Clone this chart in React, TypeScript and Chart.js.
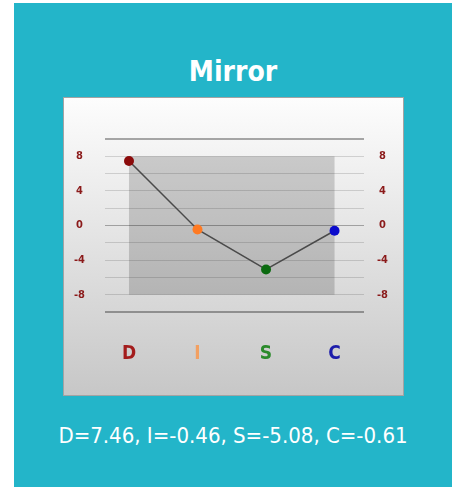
import { useEffect, useRef } from "react";
import { Chart, registerables } from "chart.js";

Chart.register(...registerables);

const categories = ["D", "I", "S", "C"];
const values = [7.46, -0.46, -5.08, -0.61];
const pointColors = ["#8b0b0b", "#ff7a22", "#0b6a10", "#0b0bcc"];
const labelColors = ["#a31c1c", "#f2a062", "#2a8a2a", "#1c1caa"];
const yTickLabels = [8, 4, 0, -4, -8];
const bandRange = [-8, 8];
const title = "Mirror";
const summary = categories.map((c, i) => `${c}=${values[i].toFixed(2)}`).join(", ");

const FONT = "'DejaVu Sans Condensed', 'DejaVu Sans', sans-serif";

const bandPlugin = {
  id: "band",
  beforeDraw(chart: any) {
    const { ctx, scales } = chart;
    const x = scales.x;
    const y = scales.y;
    const l = x.getPixelForValue(0);
    const r = x.getPixelForValue(categories.length - 1);
    const t = y.getPixelForValue(bandRange[1]);
    const b = y.getPixelForValue(bandRange[0]);
    ctx.save();
    ctx.fillStyle = "rgba(0,0,0,0.17)";
    ctx.fillRect(l, t, r - l, b - t);
    ctx.restore();
  },
};

function ChartCanvas() {
  const ref = useRef<HTMLCanvasElement>(null);
  useEffect(() => {
    if (!ref.current) return;
    const tickFont = { family: FONT, size: 11, weight: "bold" as const };
    const yTickCb = (v: any) => (yTickLabels.includes(Number(v)) ? String(v) : "");
    const chart = new Chart(ref.current, {
      type: "line",
      data: {
        datasets: [
          {
            data: values.map((v, i) => ({ x: i, y: v })),
            borderColor: "#4a4a4a",
            borderWidth: 1.5,
            pointRadius: 5,
            pointHoverRadius: 5,
            pointBorderWidth: 0,
            pointBackgroundColor: pointColors,
            tension: 0,
          },
        ],
      },
      options: {
        animation: false,
        responsive: false,
        maintainAspectRatio: false,
        layout: { padding: { left: 0, right: 0, top: 41, bottom: 0 } },
        plugins: { legend: { display: false }, tooltip: { enabled: false }, title: { display: false } },
        scales: {
          x: {
            type: "linear",
            min: -0.35,
            max: 3.43,
            afterBuildTicks: (scale: any) => {
              scale.ticks = categories.map((_, i) => ({ value: i }));
            },
            afterFit: (scale: any) => {
              scale.height = 83;
            },
            grid: { display: false, drawTicks: false },
            border: { display: false },
            ticks: {
              padding: 31,
              autoSkip: false,
              maxRotation: 0,
              font: { family: FONT, size: 19, weight: "bold" },
              color: (c: any) => labelColors[c.index] || "#000",
              callback: (v: any) => categories[Number(v)] ?? "",
            },
          },
          y: {
            position: "left",
            min: -10,
            max: 10,
            afterFit: (scale: any) => {
              scale.width = 41;
            },
            border: { display: false },
            grid: {
              drawTicks: false,
              color: (c: any) => {
                const v = c.tick?.value;
                if (v === 10 || v === -10) return "rgba(0,0,0,0.33)";
                if (v === 0) return "rgba(0,0,0,0.3)";
                return "rgba(0,0,0,0.14)";
              },
              lineWidth: (c: any) => {
                const v = c.tick?.value;
                return v === 10 || v === -10 ? 2 : 1;
              },
            },
            ticks: {
              stepSize: 2,
              autoSkip: false,
              padding: 20,
              crossAlign: "center",
              color: "#8b1a1a",
              font: tickFont,
              callback: yTickCb,
            },
          },
          y2: {
            position: "right",
            min: -10,
            max: 10,
            afterFit: (scale: any) => {
              scale.width = 39;
            },
            border: { display: false },
            grid: { display: false, drawTicks: false },
            ticks: {
              stepSize: 2,
              autoSkip: false,
              padding: 13,
              crossAlign: "center",
              color: "#8b1a1a",
              font: tickFont,
              callback: yTickCb,
            },
          },
        },
      } as any,
      plugins: [bandPlugin],
    });
    return () => chart.destroy();
  }, []);
  return <canvas ref={ref} width={339} height={297} style={{ display: "block", width: 339, height: 297 }} />;
}

export default function App() {
  return (
    <div style={{ position: "absolute", left: 0, top: 0, width: 452, height: 487, background: "#ffffff" }}>
      <div style={{ position: "absolute", left: 14, top: 3, width: 438, height: 484, background: "#23b5c9" }} />
      <div
        style={{
          position: "absolute",
          left: 0,
          top: 58,
          width: 466,
          textAlign: "center",
          color: "#ffffff",
          fontFamily: FONT,
          fontWeight: "bold",
          fontSize: 28,
          lineHeight: "28px",
        }}
      >
        {title}
      </div>
      <div
        style={{
          position: "absolute",
          left: 63,
          top: 97,
          width: 339,
          height: 297,
          border: "1px solid #a3a3a3",
          background: "linear-gradient(#fdfdfd, #c7c7c7)",
        }}
      >
        <ChartCanvas />
      </div>
      <div
        style={{
          position: "absolute",
          left: 0,
          top: 425,
          width: 466,
          textAlign: "center",
          color: "#ffffff",
          fontFamily: FONT,
          fontSize: 22,
          lineHeight: "22px",
        }}
      >
        {summary}
      </div>
    </div>
  );
}
